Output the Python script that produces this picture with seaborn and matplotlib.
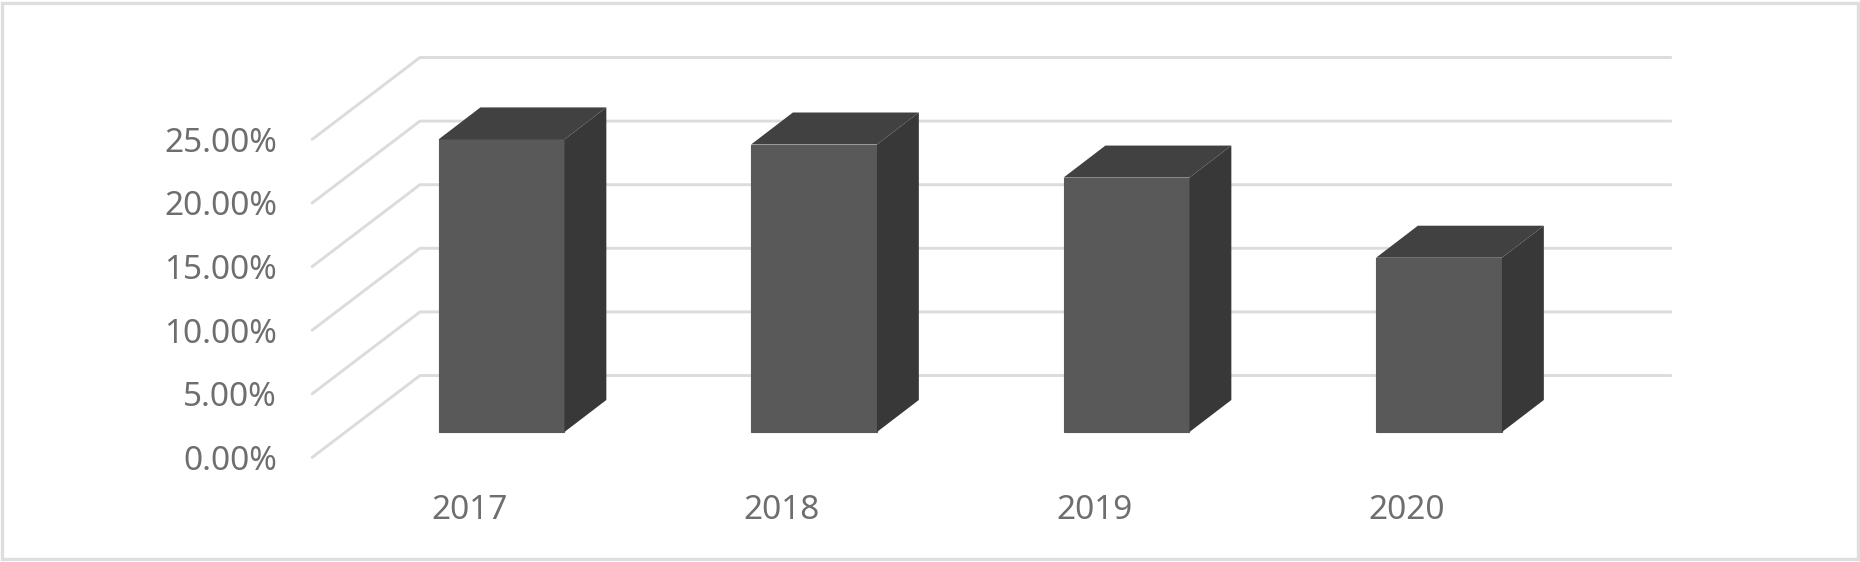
# fake 3D column chart, drawn with seaborn bars + side/top faces
import matplotlib
matplotlib.use('Agg')
import matplotlib.pyplot as plt
from matplotlib.patches import Polygon, Rectangle
import seaborn as sns

# values
years = ['2017', '2018', '2019', '2020']
shares = [23.0, 22.6, 20.0, 13.7]
grid_values = [0, 5, 10, 15, 20, 25]
grid_labels = ['0.00%', '5.00%', '10.00%', '15.00%', '20.00%', '25.00%']

# colours
front_col = '#595959'
top_col = '#414141'
side_col = '#383838'
grid_col = '#dcdcdc'
text_col = '#6e6e6e'

sns.set_theme(style='white')
plt.rcParams['font.family'] = ['Noto Sans', 'DejaVu Sans']

fig = plt.figure(figsize=(18.6, 5.62), dpi=100, facecolor='white')
ax = fig.add_axes([0, 0, 1, 1])

# front faces of the columns
sns.barplot(x=years, y=shares, color=front_col, saturation=1, width=0.403, ax=ax, zorder=3,
            edgecolor=front_col, linewidth=0.8)

# axes fill the whole figure, one category = 312.5 px, 1% = 12.72 px
ax.set_xlim(-1.6048, 4.3472)
ax.set_ylim(-10.22, 33.96)
ax.axis('off')

# depth offsets of the floor, in data units
wall_x0, wall_x1 = -0.261, 3.742
wall_dy = 4.44
front_x = -0.606
front_dy = -2.0

# gridlines: slanted on the side wall, flat on the back wall
for v, lab in zip(grid_values, grid_labels):
    ax.plot([front_x, wall_x0, wall_x1], [v + front_dy, v + wall_dy, v + wall_dy],
            color=grid_col, lw=2.1, zorder=1, solid_joinstyle='miter')
    ax.text(-0.718, v + front_dy - 0.3, lab, ha='right', va='center', fontsize=24, color=text_col)

# side and top faces
bar_dx, bar_dy = 0.134, 2.516
half = 0.2015
for i, (yr, v) in enumerate(zip(years, shares)):
    left, right = i - half, i + half
    ax.add_patch(Polygon([(right, 0), (right + bar_dx, bar_dy), (right + bar_dx, v + bar_dy), (right, v)],
                         closed=True, fc=side_col, ec='none', zorder=4))
    ax.add_patch(Polygon([(left, v), (left + bar_dx, v + bar_dy), (right + bar_dx, v + bar_dy), (right, v)],
                         closed=True, fc=top_col, ec='none', zorder=4))
    ax.text(i - 0.103, -6.15, yr, ha='center', va='center', fontsize=24, color=text_col)

# chart border
ax.add_patch(Rectangle((0.0013, 0.0045), 0.9974, 0.991, transform=ax.transAxes,
                       fill=False, ec='#dedede', lw=2.4, zorder=5))

fig.savefig('out.png', dpi=100)
